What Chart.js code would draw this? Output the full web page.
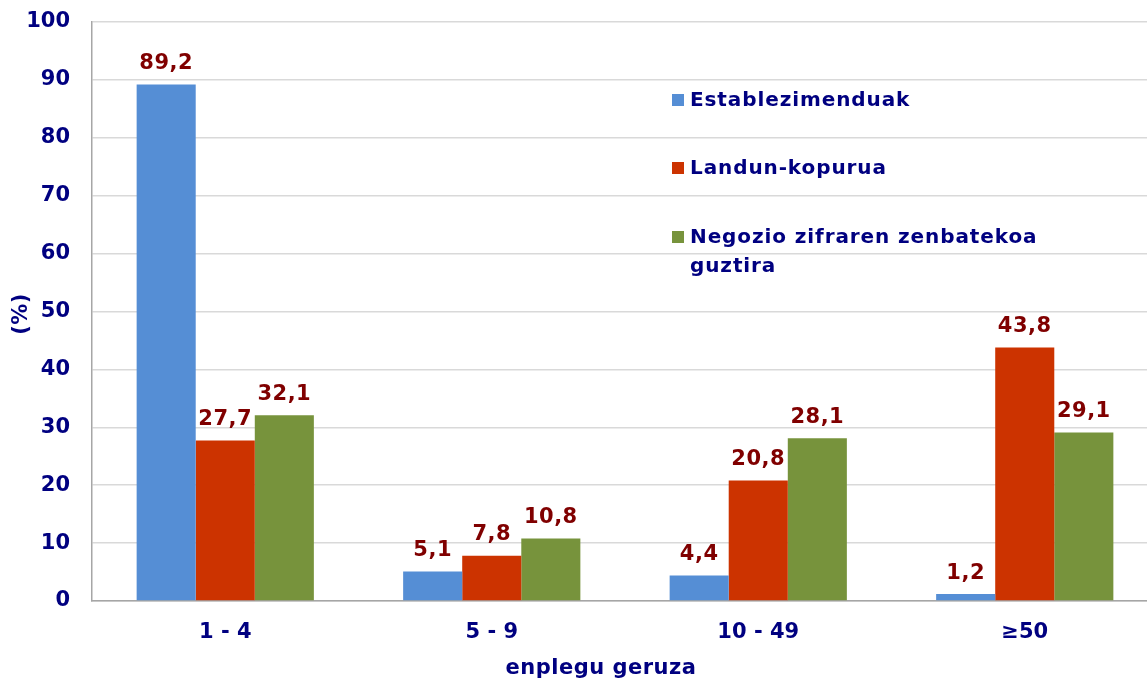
<!DOCTYPE html>
<html><head><meta charset="utf-8">
<script src="https://cdn.jsdelivr.net/npm/chart.js@4.4.0/dist/chart.umd.min.js"></script>
<style>html,body{margin:0;padding:0;overflow:hidden;background:#fff}#wrap{width:1158px;height:681px}</style>
</head><body><div id="wrap"><canvas id="c" width="1158" height="681"></canvas></div>
<script>
const categories = ['1 - 4', '5 - 9', '10 - 49', '\u226550'];
const seriesNames = ['Establezimenduak', 'Landun-kopurua', 'Negozio zifraren zenbatekoa guztira'];
const establezimenduak = [89.2, 5.1, 4.4, 1.2];
const landunKopurua = [27.7, 7.8, 20.8, 43.8];
const negozioZifra = [32.1, 10.8, 28.1, 29.1];
const yTicks = [0,10,20,30,40,50,60,70,80,90,100];
const colors = ['#558ED5', '#CC3300', '#77933C'];
const FONT = '"DejaVu Sans", Verdana, sans-serif';
const NAVY = '#000080';
const LABEL = '#800000';

const overlay = {
  id: 'overlay',
  afterDatasetsDraw(chart) {
    const ctx = chart.ctx;
    ctx.save();
    // data labels
    ctx.font = 'bold 21px ' + FONT;
    ctx.letterSpacing = '0.5px';
    ctx.fillStyle = LABEL;
    ctx.textAlign = 'center';
    ctx.textBaseline = 'middle';
    chart.data.datasets.forEach((ds, i) => {
      const meta = chart.getDatasetMeta(i);
      meta.data.forEach((bar, j) => {
        ctx.fillText(ds.data[j].toFixed(1).replace('.', ','), bar.x, bar.y - 21);
      });
    });
    // legend
    const lx = 672, rows = [[100], [168], [237, 266]];
    const lines = [['Establezimenduak'], ['Landun-kopurua'], ['Negozio zifraren zenbatekoa', 'guztira']];
    ctx.font = 'bold 20px ' + FONT;
    ctx.letterSpacing = '0.9px';
    ctx.textAlign = 'left';
    lines.forEach((ls, i) => {
      ctx.fillStyle = chart.data.datasets[i].backgroundColor;
      ctx.fillRect(lx, rows[i][0] - 6, 12, 12);
      ctx.fillStyle = NAVY;
      ls.forEach((t, k) => ctx.fillText(t, lx + 18, rows[i][k] + 1));
    });
    // axis titles
    ctx.font = 'bold 21px ' + FONT;
    ctx.letterSpacing = '0.5px';
    ctx.textAlign = 'center';
    ctx.fillText('enplegu geruza', 601, 669);
    ctx.translate(22, 314);
    ctx.rotate(-Math.PI / 2);
    ctx.fillText('(%)', 0, 0);
    ctx.restore();
  }
};

new Chart(document.getElementById('c'), {
  type: 'bar',
  data: {
    labels: categories,
    datasets: [
      { label: seriesNames[0], data: establezimenduak, backgroundColor: colors[0] },
      { label: seriesNames[1], data: landunKopurua, backgroundColor: colors[1] },
      { label: seriesNames[2], data: negozioZifra, backgroundColor: colors[2] }
    ]
  },
  options: {
    responsive: false,
    animation: false,
    layout: { padding: { top: 22, right: 0, left: 0, bottom: 0 } },
    datasets: { bar: { categoryPercentage: 0.665, barPercentage: 1.0 } },
    plugins: { legend: { display: false }, tooltip: { enabled: false } },
    scales: {
      x: {
        grid: { display: false, drawTicks: false },
        border: { color: '#A6A6A6', width: 1.5 },
        ticks: { color: NAVY, font: { family: FONT, size: 21, weight: 'bold' }, padding: 19 },
        afterFit(s) { s.height = 80; s.paddingLeft = 0; s.paddingRight = 0; }
      },
      y: {
        min: 0, max: 100,
        afterBuildTicks(s) { s.ticks = yTicks.map(v => ({ value: v })); },
        grid: { color: '#D9D9D9', lineWidth: 1.5, drawTicks: false },
        border: { color: '#A6A6A6', width: 1.5 },
        ticks: { color: NAVY, font: { family: FONT, size: 21, weight: 'bold' }, padding: 22 },
        afterFit(s) { s.width = 92; s.paddingTop = 0; s.paddingBottom = 0; }
      }
    }
  },
  plugins: [overlay]
});
</script></body></html>
